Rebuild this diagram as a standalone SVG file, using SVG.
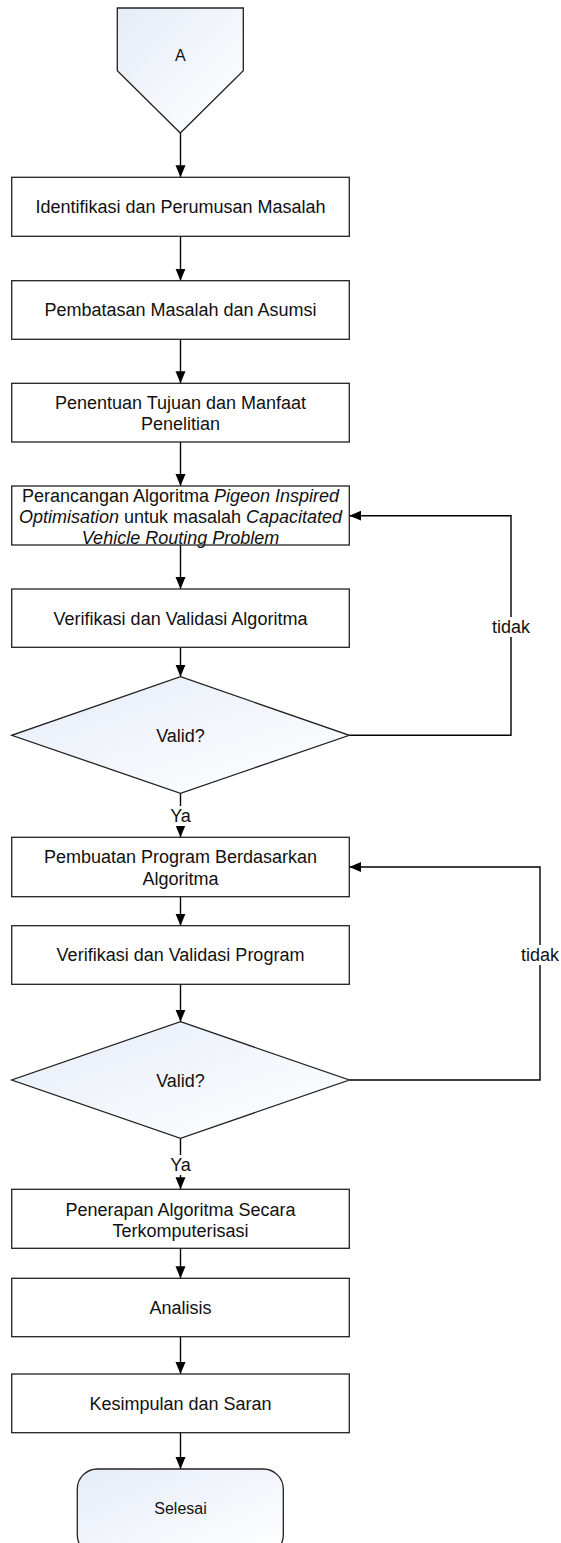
<svg xmlns="http://www.w3.org/2000/svg" width="561" height="1543" viewBox="0 0 561 1543">
<defs>
<linearGradient id="g" x1="0" y1="0" x2="1" y2="1">
<stop offset="0" stop-color="#e6ecf7"/>
<stop offset="1" stop-color="#ffffff"/>
</linearGradient>
<marker id="ah" markerWidth="12" markerHeight="12" viewBox="0 0 12 12" refX="12" refY="6" orient="auto" markerUnits="userSpaceOnUse">
<path d="M0,1 L12,6 L0,11 Z" fill="#000"/>
</marker>
<style>
.box{fill:#fff;stroke:#222;stroke-width:1.3}
.shp{fill:url(#g);stroke:#222;stroke-width:1.3}
.t{font-family:"Liberation Sans",Arial,sans-serif;font-size:18px;fill:#111;text-anchor:middle}
.s{font-size:16px}
.c{fill:none;stroke:#000;stroke-width:1.4}
.lbl{fill:#fff}
</style>
</defs>
<g id="connectors">
<path class="c" d="M180.5,133 V177.3" marker-end="url(#ah)"/>
<path class="c" d="M180.5,236.3 V280.7" marker-end="url(#ah)"/>
<path class="c" d="M180.5,339.3 V383.3" marker-end="url(#ah)"/>
<path class="c" d="M180.5,442 V486" marker-end="url(#ah)"/>
<path class="c" d="M180.5,545 V589" marker-end="url(#ah)"/>
<path class="c" d="M180.5,647.3 V676.7" marker-end="url(#ah)"/>
<path class="c" d="M180.5,793.3 V837.3" marker-end="url(#ah)"/>
<path class="c" d="M349.3,735.3 H511 V515.7 H349.3" marker-end="url(#ah)"/>
<path class="c" d="M180.5,896.7 V925.7" marker-end="url(#ah)"/>
<path class="c" d="M180.5,984.3 V1021.7" marker-end="url(#ah)"/>
<path class="c" d="M349.3,1080 H540 V867 H349.3" marker-end="url(#ah)"/>
<path class="c" d="M180.5,1138.3 V1189.3" marker-end="url(#ah)"/>
<path class="c" d="M180.5,1248.3 V1278.3" marker-end="url(#ah)"/>
<path class="c" d="M180.5,1336.7 V1374" marker-end="url(#ah)"/>
<path class="c" d="M180.5,1432.7 V1469" marker-end="url(#ah)"/>
<rect class="lbl" x="168" y="806" width="25" height="20"/>
<text class="t" x="180.5" y="822">Ya</text>
<rect class="lbl" x="491" y="617" width="40" height="20"/>
<text class="t" x="511" y="633">tidak</text>
<rect class="lbl" x="520" y="945" width="40" height="20"/>
<text class="t" x="540" y="961">tidak</text>
<rect class="lbl" x="168" y="1155" width="25" height="20"/>
<text class="t" x="180.5" y="1171">Ya</text>
</g>
<g id="start">
<path class="shp" d="M117.3,8 H243.3 V70.7 L180.3,133 L117.3,70.7 Z"/>
<text class="t s" x="180.3" y="61">A</text>
</g>
<g id="n1">
<rect class="box" x="11.7" y="177.3" width="337.6" height="59"/>
<text class="t" x="180.5" y="213">Identifikasi dan Perumusan Masalah</text>
</g>
<g id="n2">
<rect class="box" x="11.7" y="280.7" width="337.6" height="58.6"/>
<text class="t" x="180.5" y="316">Pembatasan Masalah dan Asumsi</text>
</g>
<g id="n3">
<rect class="box" x="11.7" y="383.3" width="337.6" height="58.7"/>
<text class="t" x="180.5" y="409">Penentuan Tujuan dan Manfaat</text>
<text class="t" x="180.5" y="430">Penelitian</text>
</g>
<g id="n4">
<rect class="box" x="11.7" y="486" width="337.6" height="59"/>
<text class="t" x="180.5" y="501.5">Perancangan Algoritma <tspan font-style="italic">Pigeon Inspired</tspan></text>
<text class="t" x="180.5" y="522.5"><tspan font-style="italic">Optimisation</tspan> untuk masalah <tspan font-style="italic">Capacitated</tspan></text>
<text class="t" x="180.5" y="543.5" font-style="italic">Vehicle Routing Problem</text>
</g>
<g id="n5">
<rect class="box" x="11.7" y="589" width="337.6" height="58.3"/>
<text class="t" x="180.5" y="624.5">Verifikasi dan Validasi Algoritma</text>
</g>
<g id="d1">
<path class="shp" d="M180.5,676.7 L349.3,735.3 L180.5,793.3 L11.7,735.3 Z"/>
<text class="t" x="180.5" y="741.5">Valid?</text>
</g>
<g id="n6">
<rect class="box" x="11.7" y="837.3" width="337.6" height="59.4"/>
<text class="t" x="180.5" y="863">Pembuatan Program Berdasarkan</text>
<text class="t" x="180.5" y="884.5">Algoritma</text>
</g>
<g id="n7">
<rect class="box" x="11.7" y="925.7" width="337.6" height="58.6"/>
<text class="t" x="180.5" y="961">Verifikasi dan Validasi Program</text>
</g>
<g id="d2">
<path class="shp" d="M180.5,1021.7 L349.3,1080 L180.5,1138.3 L11.7,1080 Z"/>
<text class="t" x="180.5" y="1086.5">Valid?</text>
</g>
<g id="n8">
<rect class="box" x="11.7" y="1189.3" width="337.6" height="59"/>
<text class="t" x="180.5" y="1216">Penerapan Algoritma Secara</text>
<text class="t" x="180.5" y="1237">Terkomputerisasi</text>
</g>
<g id="n9">
<rect class="box" x="11.7" y="1278.3" width="337.6" height="58.4"/>
<text class="t" x="180.5" y="1314">Analisis</text>
</g>
<g id="n10">
<rect class="box" x="11.7" y="1374" width="337.6" height="58.7"/>
<text class="t" x="180.5" y="1409.5">Kesimpulan dan Saran</text>
</g>
<g id="end">
<rect class="shp" x="77.3" y="1469" width="206" height="86" rx="20" ry="20"/>
<text class="t s" x="180.5" y="1514">Selesai</text>
</g>
</svg>
